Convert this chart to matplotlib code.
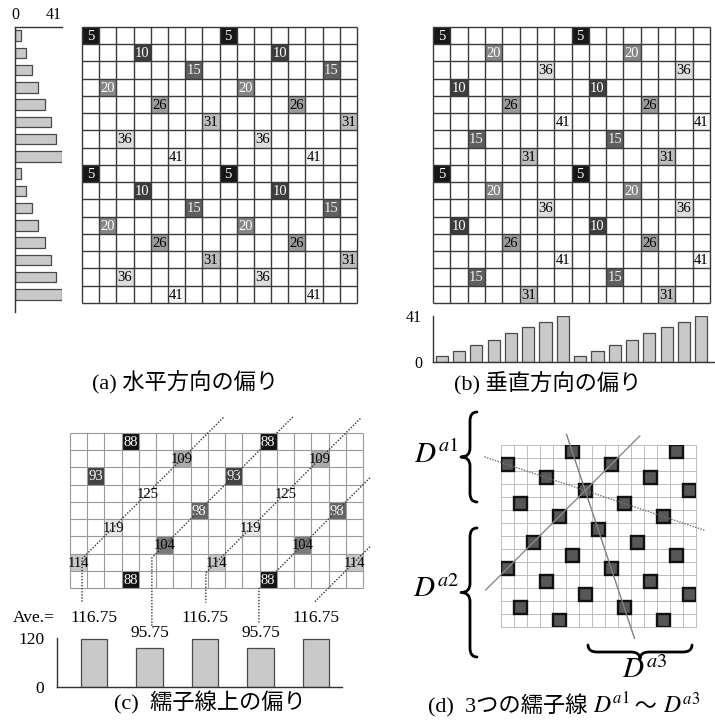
import numpy as np
import matplotlib
matplotlib.use("Agg")
import matplotlib.pyplot as plt
from matplotlib.patches import Rectangle, PathPatch
from matplotlib.path import Path
from matplotlib.offsetbox import TextArea, HPacker, AnnotationBbox

plt.rcParams["mathtext.fontset"] = "stix"
SERIF_JP = ["Liberation Serif", "Noto Sans CJK JP", "DejaVu Sans"]
plt.rcParams["font.family"] = SERIF_JP

# ---------------- data ----------------
# shading levels of the marked cells (light -> dark encodes small -> large)
level_values = [5, 10, 15, 20, 26, 31, 36, 41]
level_fill = ["#171717", "#3d3d3d", "#5f5f5f", "#868686", "#9d9d9d", "#bdbdbd", "#dedede", "#f7f7f7"]
level_ink = ["white", "white", "#eeeeee", "white", "black", "black", "black", "black"]

# column of the marked cell in each row of the 8x8 tile
tile_columns = [0, 3, 6, 1, 4, 7, 2, 5]

# (a) horizontal bias
a_cell_values = [5, 10, 15, 20, 26, 31, 36, 41]
a_row_totals = [5, 10, 15, 20, 26, 31, 36, 41, 5, 10, 15, 20, 26, 31, 36, 41]

# (b) vertical bias
b_cell_values = [5, 20, 36, 10, 26, 41, 15, 31]
b_column_totals = [5, 10, 15, 20, 26, 31, 36, 41, 5, 10, 15, 20, 26, 31, 36, 41]

# (c) bias along the satin lines
c_cell_values = [88, 109, 93, 125, 98, 119, 104, 114, 88]
c_cell_columns = [3, 6, 1, 4, 7, 2, 5, 0, 3]
c_value_order = [88, 93, 98, 104, 109, 114, 119, 125]
c_fill = ["#121212", "#444444", "#666666", "#7b7b7b", "#ababab", "#c8c8c8", "#e8e8e8", "#ffffff"]
c_ink = ["white", "white", "white", "black", "black", "black", "black", "black"]
satin_averages = [116.75, 95.75, 116.75, 95.75, 116.75]

# (d) marked cells of the 15x14 satin pattern (column per row, period 8)
d_tile_columns = [5, 0, 3, 6, 1, 4, 7, 2]

# ---------------- figure ----------------
W, H = 715, 724
fig = plt.figure(figsize=(W / 100, H / 100), dpi=100)
fig.patch.set_facecolor("white")


def px_axes(left, top, right, bottom, **kw):
    return fig.add_axes([left / W, 1 - bottom / H, (right - left) / W, (bottom - top) / H], **kw)


overlay = px_axes(0, 0, W, H)
overlay.set_xlim(0, W)
overlay.set_ylim(H, 0)
overlay.axis("off")

BAR_FC = "#c9c9c9"
BAR_EC = "#4a4a4a"


def draw_grid(ax, ncols, nrows, color, lw):
    ax.set_xlim(0, ncols)
    ax.set_ylim(nrows, 0)
    ax.axis("off")
    ax.vlines(np.arange(ncols + 1), 0, nrows, colors=color, lw=lw, clip_on=False, zorder=3)
    ax.hlines(np.arange(nrows + 1), 0, ncols, colors=color, lw=lw, clip_on=False, zorder=3)


def draw_tile_cells(ax, values, ncols, nrows):
    for r in range(nrows):
        v = values[r % 8]
        k = level_values.index(v)
        c0 = tile_columns[r % 8]
        for c in range(c0, ncols, 8):
            ax.add_patch(Rectangle((c, r), 1, 1, fc=level_fill[k], ec="none", zorder=2))
            ax.text(c + 0.5, r + 0.55, str(v), ha="center", va="center",
                    fontsize=10.5, color=level_ink[k], zorder=4)


# ---- (a) ----
ax_a = px_axes(82, 27, 357, 303)
draw_grid(ax_a, 16, 16, "#3a3a3a", 1.0)
draw_tile_cells(ax_a, a_cell_values, 16, 16)

ax_ab = px_axes(15, 27, 62, 311.6)
ax_ab.barh(np.arange(16) + 0.5, a_row_totals, height=0.62, color=BAR_FC, edgecolor=BAR_EC, lw=0.9)
ax_ab.set_xlim(0, 41)
ax_ab.set_ylim(16.5, 0)
for s in ("right", "bottom"):
    ax_ab.spines[s].set_visible(False)
for s in ("left", "top"):
    ax_ab.spines[s].set_color("#333333")
    ax_ab.spines[s].set_linewidth(1.0)
ax_ab.xaxis.tick_top()
ax_ab.set_xticks([0, 41])
ax_ab.tick_params(axis="x", length=0, labelsize=11.5, pad=3)
ax_ab.get_xticklabels()[-1].set_horizontalalignment("right")
ax_ab.set_yticks([])
ax_ab.patch.set_alpha(0)

# ---- (b) ----
ax_b = px_axes(433, 27, 710, 303)
draw_grid(ax_b, 16, 16, "#3a3a3a", 1.0)
draw_tile_cells(ax_b, b_cell_values, 16, 16)

ax_bb = px_axes(433, 316, 715, 362)
ax_bb.bar(np.arange(16) + 0.5, b_column_totals, width=0.7, color=BAR_FC, edgecolor=BAR_EC, lw=0.9)
ax_bb.set_xlim(0, 16.29)
ax_bb.set_ylim(0, 41)
for s in ("right", "top"):
    ax_bb.spines[s].set_visible(False)
for s in ("left", "bottom"):
    ax_bb.spines[s].set_color("#333333")
    ax_bb.spines[s].set_linewidth(1.0)
ax_bb.set_xticks([])
ax_bb.set_yticks([0, 41])
ax_bb.tick_params(axis="y", length=0, labelsize=11.5, pad=8)
ax_bb.patch.set_alpha(0)

# ---- (c) ----
ax_c = px_axes(70, 433, 363, 588)
draw_grid(ax_c, 17, 9, "#9a9a9a", 0.8)
for r, (v, c0) in enumerate(zip(c_cell_values, c_cell_columns)):
    k = c_value_order.index(v)
    for c in range(c0, 17, 8):
        ax_c.add_patch(Rectangle((c, r), 1, 1, fc=c_fill[k], ec="none", zorder=2))
        ax_c.text(c + 0.5, r + 0.55, str(v), ha="center", va="center",
                  fontsize=10.5, color=c_ink[k], zorder=5)

# satin lines: (col + row) of cell centres is constant along each line; drawn from
# the upper end down to a bend, then dropped vertically toward the average labels
leader_specs = [
    # (col+row constant, upper-end column, bend column, bottom row of vertical drop)
    (8, 8.9, 0.7, 9.85),
    (12, 12.93, 4.75, 11.23),
    (16, 16.85, 7.88, 9.85),
    (20, 17.4, 10.96, 11.1),
    (24, 17.4, 14.2, None),
]
for k_sum, c_top, c_bend, r_drop in leader_specs:
    xs = [c_top, c_bend]
    ys = [k_sum - c_top, k_sum - c_bend]
    if r_drop is not None:
        xs.append(c_bend)
        ys.append(r_drop)
    ax_c.plot(xs, ys, color="#333333", lw=1.0, ls=(0, (1, 1.2)), clip_on=False, zorder=6)

ax_cb = px_axes(57, 638, 342, 687)
xpos = np.arange(len(satin_averages))
ax_cb.bar(xpos, satin_averages, width=0.47, color=BAR_FC, edgecolor=BAR_EC, lw=0.9)
ax_cb.set_xlim(-0.667, 4.468)
ax_cb.set_ylim(0, 120)
for s in ("right", "top"):
    ax_cb.spines[s].set_visible(False)
for s in ("left", "bottom"):
    ax_cb.spines[s].set_color("#333333")
    ax_cb.spines[s].set_linewidth(1.0)
ax_cb.set_xticks([])
ax_cb.set_yticks([0, 120])
ax_cb.tick_params(axis="y", length=0, labelsize=12.5, pad=9)
ax_cb.patch.set_alpha(0)
top_avg = max(satin_averages)
for x, v in zip(xpos, satin_averages):
    y_frac = 1.41 if v == top_avg else 1.10
    ax_cb.text(x, y_frac, f"{v:.2f}", transform=ax_cb.get_xaxis_transform(),
               ha="center", va="center", fontsize=12.5, clip_on=False)
overlay.text(55, 618, "Ave.=", ha="right", va="center", fontsize=12.5)

# ---- (d) ----
ax_d = px_axes(500.7, 445, 695.7, 627)
draw_grid(ax_d, 15, 14, "#bdbdbd", 0.7)
for r in range(14):
    c0 = d_tile_columns[r % 8]
    for c in range(c0, 15, 8):
        ax_d.add_patch(Rectangle((c, r), 1, 1, fc="#575757",
                                 ec="#111111", lw=1.7, zorder=4))

# three satin lines: anchor cell centre, direction (dcol, drow), parameter range
satin_lines = [
    ((0.5, 1.5), (3, 1), (-0.587, 5.067), (0, (1, 1)), "#707070"),
    ((0.5, 9.5), (1, -1), (-1.65, 10.2), "-", "#8a8a8a"),
    ((5.5, 0.5), (1, 3), (-0.44, 4.79), "-", "#808080"),
]
for (c0, r0), (dc, dr), (t0, t1), ls, col in satin_lines:
    t = np.array([t0, t1])
    ax_d.plot(c0 + dc * t, r0 + dr * t, color=col, lw=1.0, ls=ls, clip_on=False, zorder=6)


def brace(ax, a0, a1, body, tip, end, q, vertical=True, lw=2.0):
    m = 0.5 * (a0 + a1)
    pts = [(end, a0), (body, a0), (body, a0 + q), (body, m - q), (body, m), (tip, m),
           (body, m), (body, m + q), (body, a1 - q), (body, a1), (end, a1)]
    codes = [Path.MOVETO, Path.CURVE3, Path.CURVE3, Path.LINETO, Path.CURVE3, Path.CURVE3,
             Path.CURVE3, Path.CURVE3, Path.LINETO, Path.CURVE3, Path.CURVE3]
    if not vertical:
        pts = [(b, a) for a, b in pts]
    ax.add_patch(PathPatch(Path(pts, codes), fc="none", ec="black", lw=lw,
                           capstyle="round", joinstyle="round"))


brace(overlay, 412, 502, 470, 461, 477, 9)
brace(overlay, 528, 657, 470, 461, 477, 9)
brace(overlay, 588, 692, 652, 659, 645, 9, vertical=False)

overlay.text(436, 455, r"$D^{\mathit{a1}}$", ha="center", va="center", fontsize=21)
overlay.text(436, 589, r"$D^{\mathit{a2}}$", ha="center", va="center", fontsize=21)
overlay.text(645, 670, r"$D^{\mathit{a3}}$", ha="center", va="center", fontsize=21)

# ---- captions ----
CAP = 16
overlay.text(185, 383, "(a) 水平方向の偏り", ha="center", va="center", fontsize=CAP)
overlay.text(548, 384, "(b) 垂直方向の偏り", ha="center", va="center", fontsize=CAP)
overlay.text(210, 703, "(c)  繻子線上の偏り", ha="center", va="center", fontsize=CAP)

pieces = [
    TextArea("(d)  3つの繻子線 ", textprops=dict(fontsize=CAP, family=SERIF_JP)),
    TextArea(r"$D^{\mathit{a1}}$", textprops=dict(fontsize=CAP + 1)),
    TextArea(" ～ ", textprops=dict(fontsize=CAP, family=SERIF_JP)),
    TextArea(r"$D^{\mathit{a3}}$", textprops=dict(fontsize=CAP + 1)),
]
cap_d = HPacker(children=pieces, align="baseline", pad=0, sep=0)
overlay.add_artist(AnnotationBbox(cap_d, (564, 705), xycoords="data", frameon=False,
                                  box_alignment=(0.5, 0.5)))

fig.savefig("out.png", dpi=100, facecolor="white")
